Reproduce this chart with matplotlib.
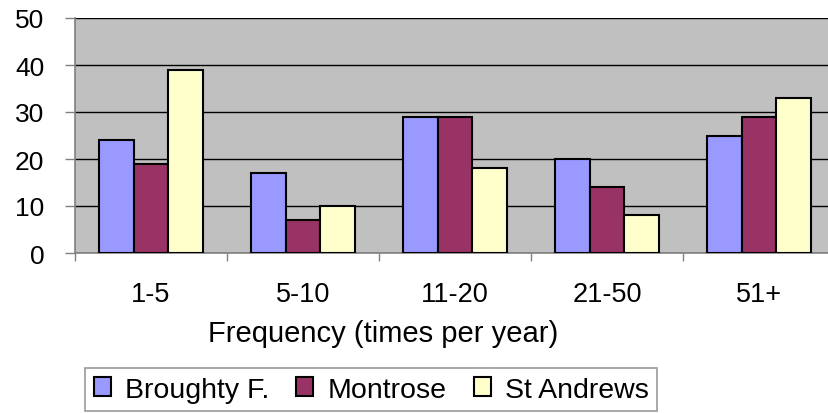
import numpy as np
import matplotlib
matplotlib.use("Agg")
import matplotlib.pyplot as plt
from matplotlib.patches import Patch
from matplotlib.ticker import FixedLocator, NullFormatter

plt.rcParams['font.family'] = ['Liberation Sans', 'DejaVu Sans']

categories = ['1-5', '5-10', '11-20', '21-50', '51+']
series_names = ['Broughty F.', 'Montrose', 'St Andrews']
broughty = [24, 17, 29, 20, 25]
montrose = [19, 7, 29, 14, 29]
st_andrews = [39, 10, 18, 8, 33]
colors = ['#9999FF', '#993366', '#FFFFCC']

W, H = 829, 414
fig = plt.figure(figsize=(W / 100, H / 100), dpi=100)
ax = fig.add_axes([75 / W, (H - 254) / H, 760 / W, 235 / H])
ax.set_facecolor('#C0C0C0')

x = np.arange(len(categories))
bw = 0.227
for i, (vals, c) in enumerate(zip([broughty, montrose, st_andrews], colors)):
    ax.bar(x + (i - 1) * bw, vals, bw, color=c, edgecolor='black',
           linewidth=1.5, zorder=3)

ax.set_xlim(-0.5, len(categories) - 0.5)
ax.set_ylim(0, 50)
ax.set_yticks(range(0, 51, 10))
ax.yaxis.grid(True, color='black', linewidth=1.0, zorder=1)
ax.set_axisbelow(True)

# category boundaries get the tick marks, centres carry the labels
ax.xaxis.set_major_locator(FixedLocator(np.arange(-0.5, len(categories), 1.0)))
ax.xaxis.set_major_formatter(NullFormatter())
ax.xaxis.set_minor_locator(FixedLocator(x))
ax.set_xticklabels(categories, minor=True, fontsize=19.5)
ax.tick_params(axis='x', which='minor', length=0, pad=20)
ax.tick_params(axis='x', which='major', length=6, color='#808080', width=1)
ax.tick_params(axis='y', length=7, color='#808080', width=1, labelsize=19, pad=15)

for s in ['top', 'right']:
    ax.spines[s].set_visible(False)
for s in ['left', 'bottom']:
    ax.spines[s].set_color('#808080')
    ax.spines[s].set_linewidth(1.2)

fig.text(383 / W, 1 - 342 / H, 'Frequency (times per year)', fontsize=21,
         ha='center', va='baseline')

handles = [Patch(facecolor=c, edgecolor='black', linewidth=1.5) for c in colors]
leg = fig.legend(handles, series_names, loc='upper left',
                 bbox_to_anchor=(85 / W, 1 - 369 / H), ncol=3, fontsize=20.5,
                 frameon=True, fancybox=False, edgecolor='#808080',
                 handlelength=0.6, handleheight=0.6, handletextpad=0.5,
                 columnspacing=0.95, borderpad=0.3, borderaxespad=0)
leg.get_frame().set_linewidth(1.2)

fig.savefig('out.png', dpi=100)
